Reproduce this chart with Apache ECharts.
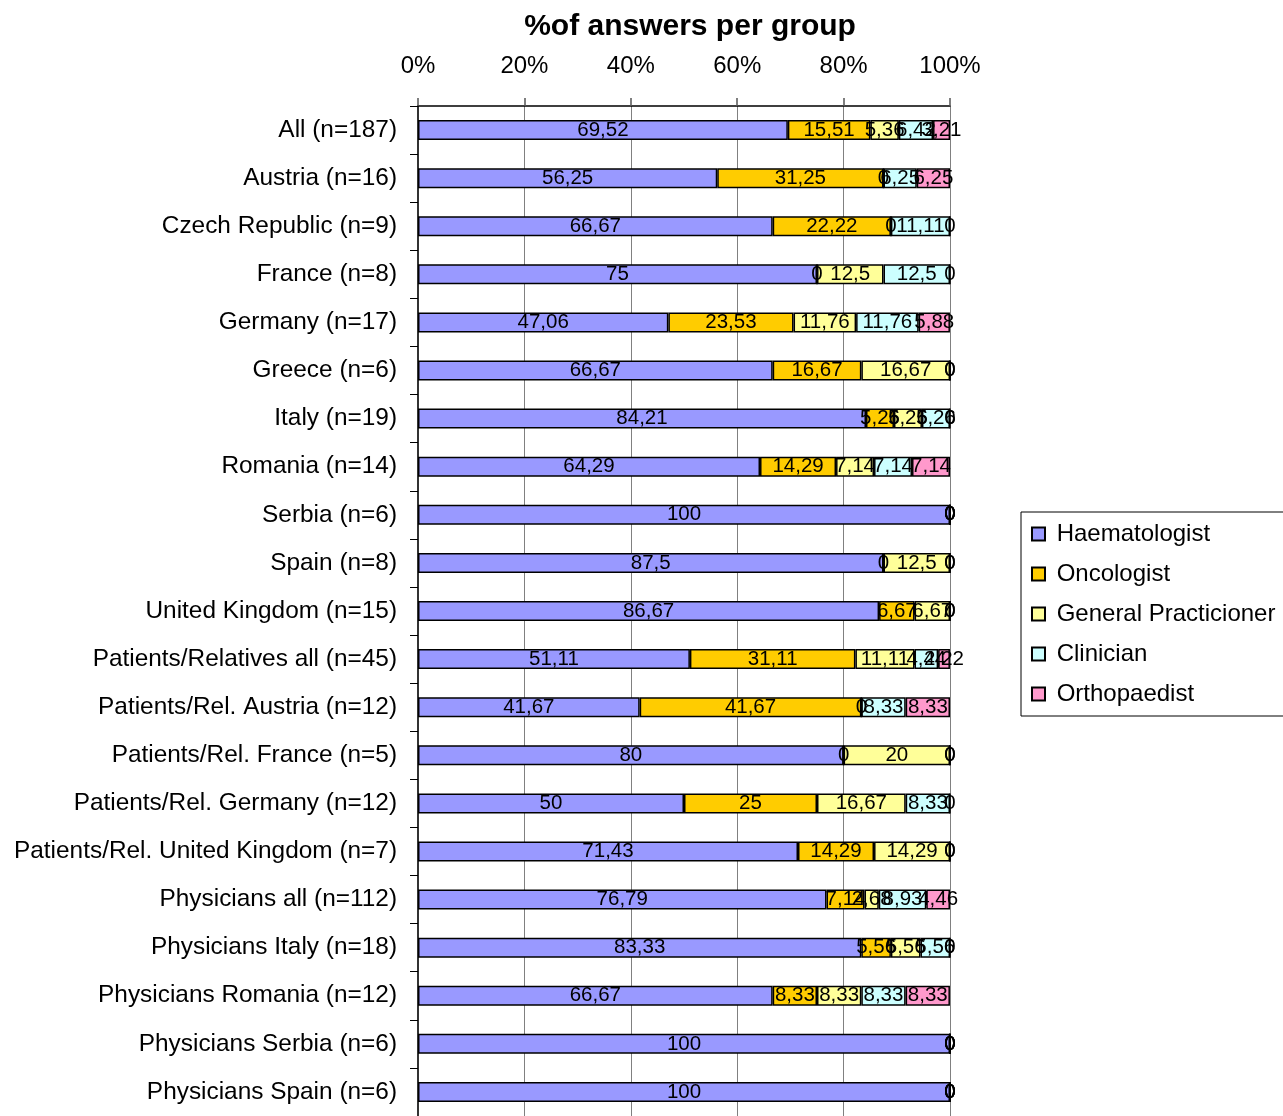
<!DOCTYPE html>
<html>
<head>
<meta charset="utf-8">
<script src="https://cdn.jsdelivr.net/npm/echarts@6/dist/echarts.min.js"></script>
<style>html,body{margin:0;padding:0;background:#fff;}#c{width:1283px;height:1116px;}</style>
</head>
<body>
<div id="c"></div>
<script>
const categories = [
  "All (n=187)", "Austria (n=16)", "Czech Republic (n=9)", "France (n=8)", "Germany (n=17)",
  "Greece (n=6)", "Italy (n=19)", "Romania (n=14)", "Serbia (n=6)", "Spain (n=8)",
  "United Kingdom (n=15)", "Patients/Relatives all (n=45)", "Patients/Rel. Austria (n=12)",
  "Patients/Rel. France (n=5)", "Patients/Rel. Germany (n=12)", "Patients/Rel. United Kingdom (n=7)",
  "Physicians all (n=112)", "Physicians Italy (n=18)", "Physicians Romania (n=12)",
  "Physicians Serbia (n=6)", "Physicians Spain (n=6)"
];
const haematologist = [69.52, 56.25, 66.67, 75, 47.06, 66.67, 84.21, 64.29, 100, 87.5, 86.67, 51.11, 41.67, 80, 50, 71.43, 76.79, 83.33, 66.67, 100, 100];
const oncologist    = [15.51, 31.25, 22.22, 0, 23.53, 16.67, 5.26, 14.29, 0, 0, 6.67, 31.11, 41.67, 0, 25, 14.29, 7.14, 5.56, 8.33, 0, 0];
const generalPract  = [5.36, 0, 0, 12.5, 11.76, 16.67, 5.26, 7.14, 0, 12.5, 6.67, 11.11, 0, 20, 16.67, 14.29, 2.68, 5.56, 8.33, 0, 0];
const clinician     = [6.42, 6.25, 11.11, 12.5, 11.76, 0, 5.26, 7.14, 0, 0, 0, 4.44, 8.33, 0, 8.33, 0, 8.93, 5.56, 8.33, 0, 0];
const orthopaedist  = [3.21, 6.25, 0, 0, 5.88, 0, 0, 7.14, 0, 0, 0, 2.22, 8.33, 0, 0, 0, 4.46, 0, 8.33, 0, 0];
const tickLabels = ["0%", "20%", "40%", "60%", "80%", "100%"];

const seriesDefs = [
  { name: "Haematologist", data: haematologist, color: "#9999FF" },
  { name: "Oncologist", data: oncologist, color: "#FFCC00" },
  { name: "General Practicioner", data: generalPract, color: "#FFFF99" },
  { name: "Clinician", data: clinician, color: "#CCFFFF" },
  { name: "Orthopaedist", data: orthopaedist, color: "#FF99CC" }
];

const FONT = "Liberation Sans, Arial, sans-serif";
const chart = echarts.init(document.getElementById('c'), null, { renderer: 'canvas' });
chart.setOption({
  animation: false,
  backgroundColor: '#fff',
  title: {
    text: '%of answers per group',
    left: 685, top: 7, textAlign: 'center',
    textStyle: { fontFamily: FONT, fontSize: 30, fontWeight: 'bold', color: '#000' }
  },
  legend: {
    orient: 'vertical',
    left: 1021, top: 512,
    padding: [10, 10, 10, 10],
    itemWidth: 13, itemHeight: 13, itemGap: 16,
    borderColor: '#000', borderWidth: 1,
    icon: 'rect',
    formatter: n => ' ' + n,
    textStyle: { fontFamily: FONT, fontSize: 24, color: '#000', lineHeight: 24 },
    data: seriesDefs.map(s => s.name)
  },
  grid: { left: 418, top: 106, width: 532, height: 1014, containLabel: false },
  xAxis: {
    type: 'value', position: 'top', min: 0, max: 100, interval: 20,
    axisLine: { show: true, lineStyle: { color: '#000', width: 1.5 } },
    axisTick: { show: true, length: 8, lineStyle: { color: '#555', width: 1.5 } },
    axisLabel: { margin: 28, fontFamily: FONT, fontSize: 24, color: '#000',
      formatter: v => tickLabels[Math.round(v / 20)] },
    splitLine: { show: true, lineStyle: { color: '#808080', width: 1 } }
  },
  yAxis: {
    type: 'category', inverse: true, data: categories,
    axisLine: { show: true, lineStyle: { color: '#333', width: 2 } },
    axisTick: { show: true, length: 8, alignWithLabel: false, lineStyle: { color: '#000', width: 1 } },
    axisLabel: { margin: 21, fontFamily: FONT, fontSize: 24.4, color: '#000' },
    splitLine: { show: false }
  },
  series: seriesDefs.map(s => ({
    name: s.name, type: 'bar', stack: 'total', barWidth: 20, clip: false,
    data: s.data,
    itemStyle: { color: s.color, borderColor: '#000', borderWidth: 1.5 },
    label: {
      show: true, position: 'inside', color: '#000', fontFamily: FONT, fontSize: 20.5,
      formatter: p => String(p.value).replace('.', ',')
    }
  }))
});
</script>
</body>
</html>
